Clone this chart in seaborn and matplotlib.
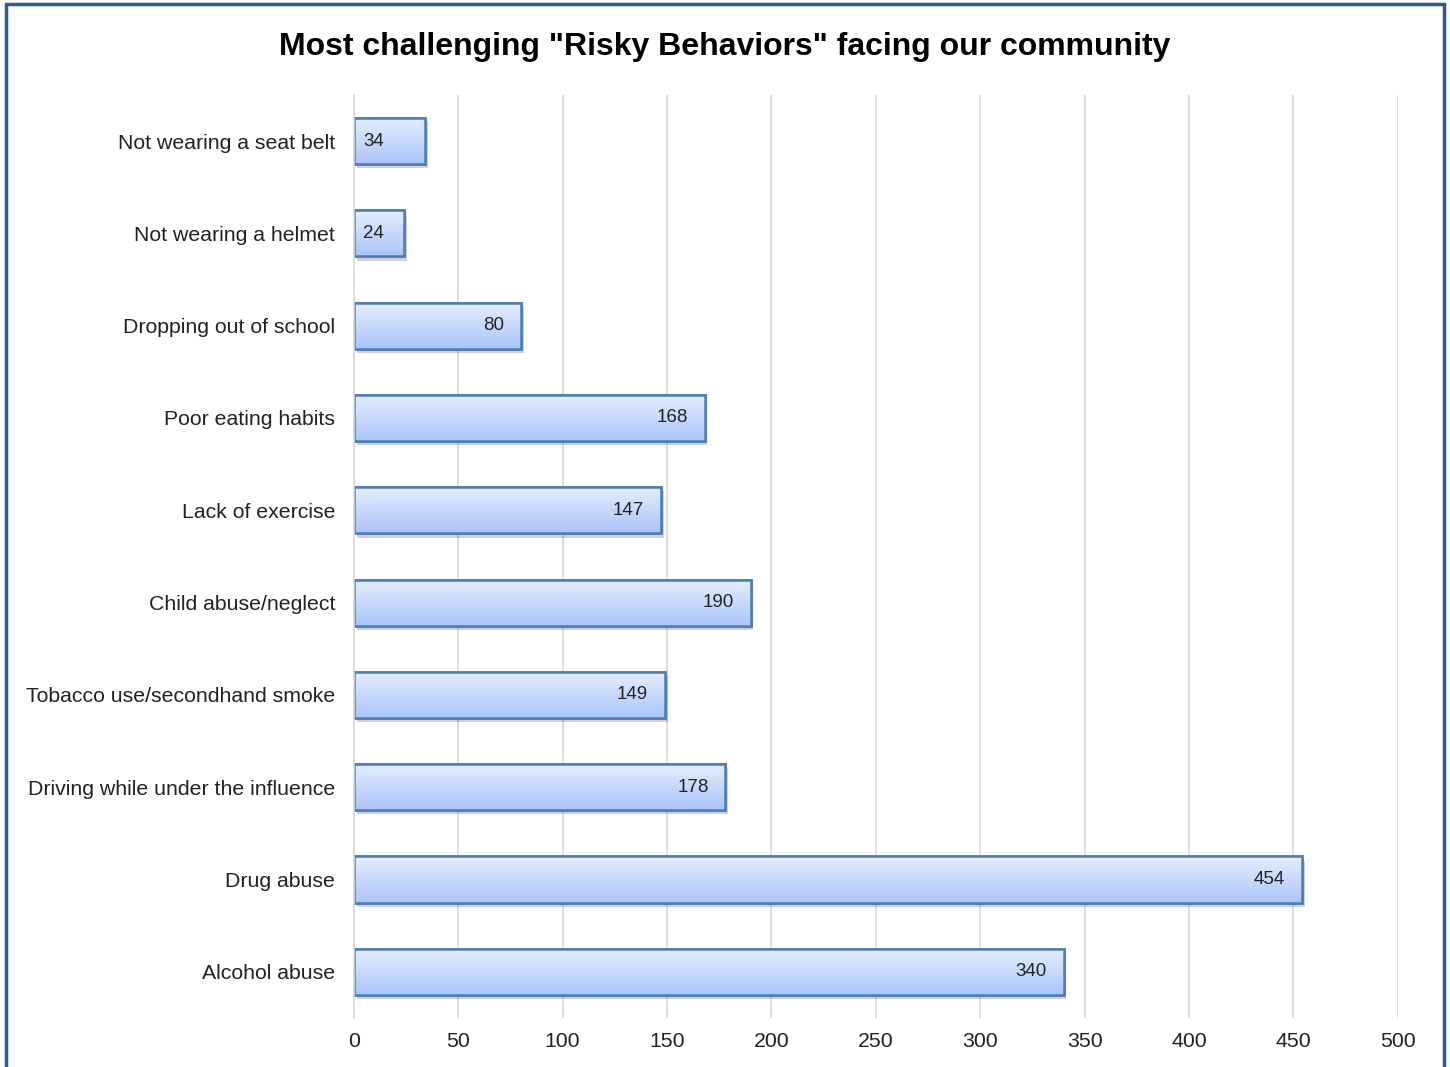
import numpy as np
import pandas as pd
import matplotlib
matplotlib.use("Agg")
import matplotlib.pyplot as plt
import matplotlib.patheffects as pe
from matplotlib.lines import Line2D
import seaborn as sns

# Данные
behaviors = [
    "Not wearing a seat belt",
    "Not wearing a helmet",
    "Dropping out of school",
    "Poor eating habits",
    "Lack of exercise",
    "Child abuse/neglect",
    "Tobacco use/secondhand smoke",
    "Driving while under the influence",
    "Drug abuse",
    "Alcohol abuse",
]
counts = [34, 24, 80, 168, 147, 190, 149, 178, 454, 340]
x_ticks = [0, 50, 100, 150, 200, 250, 300, 350, 400, 450, 500]

df = pd.DataFrame({"behavior": behaviors, "count": counts})

sns.set_theme(style="white")
plt.rcParams["font.family"] = ["Liberation Sans", "DejaVu Sans"]

fig = plt.figure(figsize=(14.5, 10.67), dpi=100)
ax = fig.add_axes([0.244, 0.046, 0.720, 0.865])

sns.barplot(data=df, x="count", y="behavior", orient="h", width=0.5,
            color="#c6d9fb", edgecolor="#4a7ebb", linewidth=1.8, ax=ax)

# Градиент и тень для каждого столбца
grad = np.linspace(0, 1, 100).reshape(-1, 1)
cmap = matplotlib.colors.LinearSegmentedColormap.from_list(
    "bar", ["#e6eefd", "#a9c5f9"])
for bar in ax.patches:
    bar.set_path_effects([pe.SimplePatchShadow(offset=(2, -3), shadow_rgbFace="#000000", alpha=0.18),
                          pe.Normal()])
    x0, y0 = bar.get_x(), bar.get_y()
    w, h = bar.get_width(), bar.get_height()
    im = ax.imshow(grad, cmap=cmap, aspect="auto", extent=(x0, x0 + w, y0 + h, y0),
                   origin="upper", zorder=bar.get_zorder() + 0.1)
    im.set_clip_path(bar)
    edge = matplotlib.patches.Rectangle((x0, y0), w, h, fill=False,
                                        edgecolor="#4a7ebb", linewidth=1.8,
                                        zorder=bar.get_zorder() + 0.2)
    ax.add_patch(edge)

# Подписи значений
for i, v in enumerate(counts):
    if v < 50:
        ax.text(4.5, i, str(v), ha="left", va="center", fontsize=13.5, color="#222222", zorder=5)
    else:
        ax.text(v - 8, i, str(v), ha="right", va="center", fontsize=13.5, color="#222222", zorder=5)

ax.set_xlim(0, 500)
ax.set_ylim(len(behaviors) - 0.5, -0.5)
ax.set_xticks(x_ticks)
ax.xaxis.grid(True, color="#d9d9d9", linewidth=1.2)
ax.set_axisbelow(True)
for s in ["top", "right", "bottom"]:
    ax.spines[s].set_visible(False)
ax.spines["left"].set_color("#d9d9d9")
ax.spines["left"].set_linewidth(1.2)
ax.tick_params(axis="both", length=0, labelsize=15.3, colors="#222222")
ax.tick_params(axis="y", pad=13.5)
ax.tick_params(axis="x", pad=10)
ax.set_xlabel("")
ax.set_ylabel("")

fig.suptitle('Most challenging "Risky Behaviors" facing our community',
             x=0.5, y=0.97, fontsize=23, fontweight="bold", color="#000000")

# Рамка вокруг рисунка
fig.add_artist(Line2D([0.004, 0.004], [0, 0.996], transform=fig.transFigure, color="#2e5b94", linewidth=2.5))
fig.add_artist(Line2D([0.996, 0.996], [0, 0.996], transform=fig.transFigure, color="#2e5b94", linewidth=2.5))
fig.add_artist(Line2D([0.004, 0.996], [0.996, 0.996], transform=fig.transFigure, color="#2e5b94", linewidth=2.5))

fig.savefig("out.png", dpi=100)
